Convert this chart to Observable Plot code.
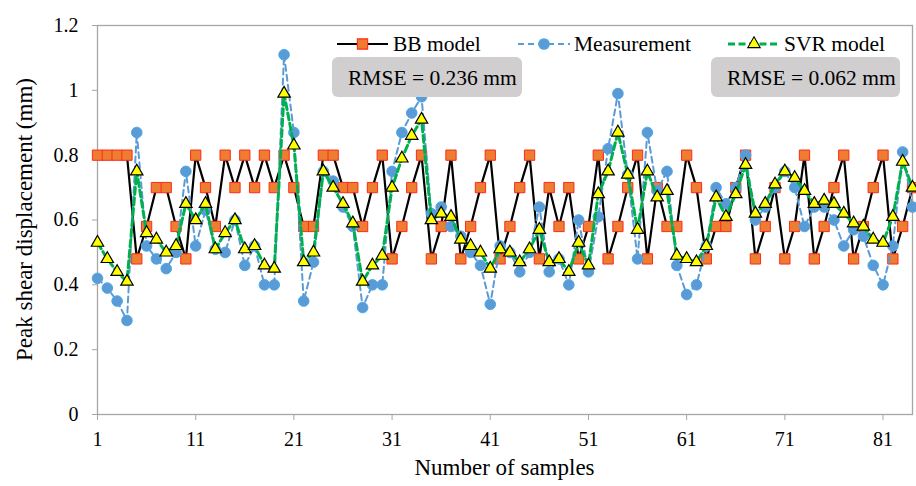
<!DOCTYPE html>
<html>
<head>
<meta charset="utf-8">
<script src="https://cdn.jsdelivr.net/npm/d3@7"></script>
<script src="https://cdn.jsdelivr.net/npm/@observablehq/plot@0.6"></script>
<style>
  html, body { margin: 0; padding: 0; background: #fff; }
  #chart { width: 916px; height: 486px; }
</style>
</head>
<body>
<div id="chart"></div>
<script>
// ---- data ----
const samples = d3.range(1, 85);
const bbModel = [
  0.8, 0.8, 0.8, 0.8, 0.48, 0.58, 0.7, 0.7, 0.58, 0.48,
  0.8, 0.7, 0.58, 0.8, 0.7, 0.8, 0.7, 0.8, 0.7, 0.8,
  0.7, 0.58, 0.58, 0.8, 0.8, 0.7, 0.7, 0.58, 0.7, 0.8,
  0.48, 0.58, 0.7, 0.8, 0.48, 0.58, 0.8, 0.48, 0.58, 0.7,
  0.8, 0.48, 0.58, 0.7, 0.8, 0.48, 0.7, 0.58, 0.7, 0.48,
  0.58, 0.8, 0.48, 0.58, 0.7, 0.8, 0.48, 0.7, 0.58, 0.58,
  0.8, 0.7, 0.48, 0.58, 0.58, 0.7, 0.8, 0.48, 0.58, 0.7,
  0.48, 0.58, 0.8, 0.48, 0.58, 0.7, 0.8, 0.48, 0.58, 0.7,
  0.8, 0.48, 0.58, 0.7
];
const measurement = [
  0.42, 0.39, 0.35, 0.29, 0.87, 0.52, 0.48, 0.45, 0.50, 0.75,
  0.52, 0.63, 0.51, 0.50, 0.60, 0.46, 0.52, 0.40, 0.40, 1.11,
  0.87, 0.35, 0.47, 0.75, 0.72, 0.64, 0.58, 0.33, 0.40, 0.40,
  0.75, 0.87, 0.93, 0.98, 0.62, 0.64, 0.58, 0.55, 0.50, 0.46,
  0.34, 0.52, 0.50, 0.44, 0.50, 0.64, 0.44, 0.48, 0.40, 0.60,
  0.44, 0.61, 0.82, 0.99, 0.74, 0.48, 0.87, 0.69, 0.75, 0.46,
  0.37, 0.40, 0.52, 0.70, 0.65, 0.70, 0.80, 0.60, 0.64, 0.70,
  0.75, 0.70, 0.58, 0.64, 0.64, 0.60, 0.52, 0.57, 0.55, 0.46,
  0.40, 0.52, 0.81, 0.64
];
const svrModel = [
  0.53, 0.48, 0.44, 0.41, 0.75, 0.56, 0.54, 0.50, 0.52, 0.65,
  0.60, 0.65, 0.51, 0.56, 0.60, 0.51, 0.52, 0.46, 0.45, 0.99,
  0.83, 0.47, 0.50, 0.75, 0.70, 0.65, 0.59, 0.41, 0.46, 0.49,
  0.70, 0.79, 0.86, 0.91, 0.60, 0.62, 0.61, 0.54, 0.52, 0.50,
  0.45, 0.51, 0.50, 0.47, 0.51, 0.57, 0.47, 0.48, 0.44, 0.53,
  0.46, 0.68, 0.75, 0.87, 0.74, 0.57, 0.75, 0.67, 0.69, 0.49,
  0.48, 0.47, 0.52, 0.67, 0.61, 0.68, 0.77, 0.62, 0.65, 0.71,
  0.75, 0.73, 0.69, 0.65, 0.66, 0.65, 0.62, 0.59, 0.58, 0.54,
  0.53, 0.61, 0.78, 0.70
];
const xTicks = [1, 11, 21, 31, 41, 51, 61, 71, 81];
const yTicks = [0, 0.2, 0.4, 0.6, 0.8, 1, 1.2];
const yTickLabels = ["0", "0.2", "0.4", "0.6", "0.8", "1", "1.2"];
const seriesNames = ["BB model", "Measurement", "SVR model"];
const rmseLabels = ["RMSE = 0.236 mm", "RMSE = 0.062 mm"];
const xTitle = "Number of samples";
const yTitle = "Peak shear displacement (mm)";

// ---- styles ----
const FONT = "'Liberation Serif', 'Times New Roman', serif";
const C = {
  bbLine: "#000000", bbFill: "#ED7D31", bbStroke: "#FF2A1A",
  msLine: "#5B9BD5", msFill: "#5B9BD5", msStroke: "#4AA8E8",
  svLine: "#00B050", svFill: "#FFFF00", svStroke: "#000000",
  axis: "#A6A6A6"
};

const rows = samples.map((s, i) => ({ s, bb: bbModel[i], ms: measurement[i], sv: svrModel[i] }));

const W = 916, H = 486, ML = 97, MR = 4, MT = 25, MB = 72;

const chart = Plot.plot({
  width: W, height: H,
  marginLeft: ML, marginRight: MR, marginTop: MT, marginBottom: MB,
  style: { fontFamily: FONT, fontSize: "20px", color: "#000", background: "#fff" },
  x: { domain: [1, 84], label: null },
  y: { domain: [0, 1.2], label: null },
  marks: [
    Plot.frame({ stroke: C.axis, strokeWidth: 1.3 }),
    Plot.axisY({ ticks: yTicks, tickFormat: d => yTickLabels[yTicks.indexOf(d)], tickSize: 5, tickPadding: 14, stroke: C.axis, fill: "#000", label: null, fontSize: 20 }),
    Plot.axisX({ ticks: xTicks, tickFormat: d => String(d), tickSize: 6, tickPadding: 11, stroke: C.axis, fill: "#000", label: null, fontSize: 20 }),
    // BB model
    Plot.line(rows, { x: "s", y: "bb", stroke: C.bbLine, strokeWidth: 2.2 }),
    Plot.dot(rows, { x: "s", y: "bb", symbol: "square", r: 5.8, fill: C.bbFill, stroke: C.bbStroke, strokeWidth: 1 }),
    // Measurement
    Plot.line(rows, { x: "s", y: "ms", stroke: C.msLine, strokeWidth: 2, strokeDasharray: "6,4" }),
    Plot.dot(rows, { x: "s", y: "ms", symbol: "circle", r: 5.3, fill: C.msFill, stroke: C.msStroke, strokeWidth: 1 }),
    // SVR model
    Plot.line(rows, { x: "s", y: "sv", stroke: C.svLine, strokeWidth: 3, strokeDasharray: "7,3.5" }),
    Plot.dot(rows, { x: "s", y: "sv", symbol: "triangle", r: 4.6, fill: C.svFill, stroke: C.svStroke, strokeWidth: 1.2 })
  ]
});

document.getElementById("chart").appendChild(chart);

// ---- annotations: axis titles, legend, RMSE boxes ----
const svg = d3.select(chart);
const g = svg.append("g").attr("font-family", FONT).attr("fill", "#000").attr("text-anchor", "start");

g.append("text")
  .attr("x", (ML + W - MR) / 2).attr("y", 475)
  .attr("text-anchor", "middle").attr("font-size", 23)
  .text(xTitle);

g.append("text")
  .attr("transform", `translate(32, ${(MT + H - MB) / 2}) rotate(-90)`)
  .attr("text-anchor", "middle").attr("font-size", 23)
  .text(yTitle);

// legend
const legY = 44;
const legend = [
  { x0: 337, x1: 388, tx: 393, stroke: C.bbLine, sw: 2.2, dash: null, sym: d3.symbolSquare, r: 5.8, fill: C.bbFill, st: C.bbStroke },
  { x0: 518, x1: 570, tx: 574, stroke: C.msLine, sw: 2, dash: "6,4", sym: d3.symbolCircle, r: 5.3, fill: C.msFill, st: C.msStroke },
  { x0: 728, x1: 780, tx: 784, stroke: C.svLine, sw: 3, dash: "7,3.5", sym: d3.symbolTriangle, r: 4.6, fill: C.svFill, st: C.svStroke }
];
legend.forEach((L, i) => {
  g.append("line").attr("x1", L.x0).attr("x2", L.x1).attr("y1", legY).attr("y2", legY)
    .attr("stroke", L.stroke).attr("stroke-width", L.sw).attr("stroke-dasharray", L.dash);
  g.append("path").attr("d", d3.symbol(L.sym, Math.PI * L.r * L.r)())
    .attr("transform", `translate(${(L.x0 + L.x1) / 2},${legY})`)
    .attr("fill", L.fill).attr("stroke", L.st).attr("stroke-width", 1.1);
  g.append("text").attr("x", L.tx).attr("y", legY + 7).attr("font-size", 21.5)
    .attr("text-anchor", "start").text(seriesNames[i]);
});

// RMSE boxes
[[332, 190], [711, 189]].forEach(([bx, bw], i) => {
  g.append("rect").attr("x", bx).attr("y", 57).attr("width", bw).attr("height", 40)
    .attr("rx", 6).attr("fill", "#D0CECE");
  g.append("text").attr("x", bx + 16).attr("y", 85).attr("font-size", 21.5)
    .attr("text-anchor", "start").text(rmseLabels[i]);
});
</script>
</body>
</html>
